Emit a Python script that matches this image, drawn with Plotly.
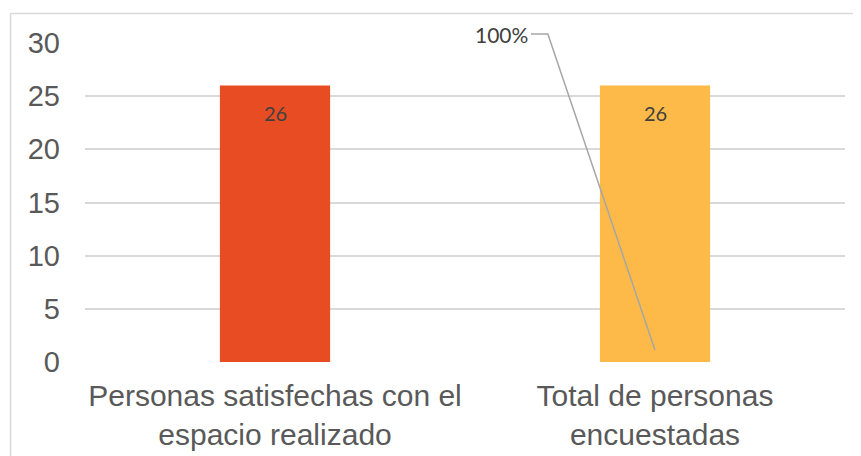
import plotly.graph_objects as go

categories = ["Personas satisfechas con el<br>espacio realizado", "Total de personas<br>encuestadas"]
values = [26, 26]
bar_colors = ["#E84C22", "#FDBA48"]
pct_label = "100%"
y_ticks = [0, 5, 10, 15, 20, 25, 30]

fig = go.Figure()
fig.add_trace(go.Bar(
    x=categories, y=values, marker=dict(color=bar_colors, line=dict(width=0)),
    width=0.29, hoverinfo="skip",
))

for c, v in zip(categories, values):
    fig.add_annotation(x=c, y=v, text=str(v), showarrow=False, yshift=-27,
                       font=dict(family="Lato", size=20, color="#404040"))

# 100% label with leader line
fig.add_annotation(xref="paper", yref="paper", x=0.586, y=1.028, xanchor="right",
                   yanchor="middle", text=pct_label, showarrow=False,
                   font=dict(family="Lato", size=21, color="#404040"))
fig.add_shape(type="path", xref="paper", yref="paper",
              path="M 0.5868 1.028 L 0.609 1.028 L 0.75 0.0376",
              line=dict(color="#A6A6A6", width=1.5))

# outer chart border
fig.add_shape(type="rect", xref="paper", yref="paper",
              x0=-0.098, x1=1.3, y0=-0.6, y1=1.0925,
              line=dict(color="#D9D9D9", width=1.5), layer="below")

fig.update_layout(
    width=861, height=456,
    margin=dict(l=77, r=24, t=35, b=102),
    paper_bgcolor="white", plot_bgcolor="white",
    showlegend=False,
    font=dict(family="Liberation Sans", color="#595959"),
)
fig.update_xaxes(range=[-0.5, 1.5], showgrid=False, showline=False, zeroline=False,
                 tickfont=dict(size=30, color="#595959"), ticks="", ticklabelstandoff=13)
fig.update_yaxes(range=[0, 30], tickvals=y_ticks, showgrid=True, gridcolor="#D9D9D9",
                 gridwidth=1.5, zeroline=False, showline=False, ticks="",
                 tickfont=dict(size=29, color="#595959"), ticklabelstandoff=24)

fig.write_html("out.html")
